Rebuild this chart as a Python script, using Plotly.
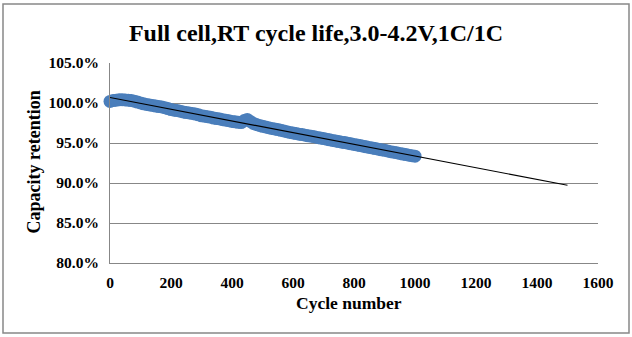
import numpy as np
import plotly.graph_objects as go

# Cycle-life test data: capacity retention (%) every 10 cycles
cycles = list(range(0, 1001, 10))
retention = [
    100.20, 100.30, 100.35, 100.40, 100.42, 100.38, 100.35, 100.30, 100.22, 100.12,
    100.00, 99.90, 99.82, 99.76, 99.70, 99.62, 99.55, 99.50, 99.42, 99.30,
    99.18, 99.10, 99.05, 98.98, 98.88, 98.80, 98.75, 98.70, 98.62, 98.52,
    98.40, 98.35, 98.28, 98.22, 98.12, 98.05, 98.00, 97.92, 97.85, 97.78,
    97.70, 97.65, 97.58, 97.55, 97.80, 97.95, 97.70, 97.45, 97.30, 97.20,
    97.08, 97.00, 96.92, 96.82, 96.75, 96.68, 96.58, 96.50, 96.42, 96.32,
    96.25, 96.18, 96.10, 96.05, 95.98, 95.90, 95.85, 95.78, 95.70, 95.62,
    95.55, 95.48, 95.40, 95.32, 95.25, 95.18, 95.10, 95.05, 94.98, 94.90,
    94.82, 94.75, 94.68, 94.60, 94.52, 94.45, 94.38, 94.30, 94.22, 94.15,
    94.08, 94.00, 93.92, 93.85, 93.78, 93.70, 93.62, 93.55, 93.48, 93.42,
    93.35,
]

# Linear trendline, forecast forward to 1500 cycles
trend_end = 1500
slope, intercept = np.polyfit(cycles, retention, 1)
trend_x = [0, trend_end]
trend_y = [intercept + slope * x for x in trend_x]

x_ticks = list(range(0, 1601, 200))
y_ticks = [80, 85, 90, 95, 100, 105]

FONT = "Liberation Serif"
GRID = "#878787"

fig = go.Figure()
fig.add_trace(go.Scatter(
    x=cycles, y=retention, mode="markers",
    marker=dict(size=13, color="#4A7EBB", line=dict(width=0)),
    cliponaxis=False, showlegend=False,
))
fig.add_trace(go.Scatter(
    x=trend_x, y=trend_y, mode="lines",
    line=dict(color="black", width=1.1),
    showlegend=False,
))

fig.update_layout(
    width=632, height=337,
    margin=dict(l=110, r=34, t=63, b=74),
    paper_bgcolor="white", plot_bgcolor="white",
    font=dict(family=FONT, color="black"),
    title=dict(
        text="<b>Full cell,RT cycle life,3.0-4.2V,1C/1C</b>",
        x=0.5, xref="container", xanchor="center",
        y=1 - 33 / 337, yref="container", yanchor="middle",
        font=dict(family=FONT, size=24, color="black"),
    ),
    xaxis=dict(
        range=[0, 1600], tickvals=x_ticks, ticktext=[f"<b>{v}</b>" for v in x_ticks],
        showgrid=False, zeroline=False,
        showline=True, linecolor=GRID, linewidth=1,
        ticks="", ticklabelstandoff=5,
        tickfont=dict(family=FONT, size=15.5, color="black"),
    ),
    yaxis=dict(
        range=[80, 105], tickvals=y_ticks,
        ticktext=[f"<b>{v:.1f}%</b>" for v in y_ticks],
        showgrid=True, gridcolor=GRID, gridwidth=1, zeroline=False,
        showline=True, linecolor=GRID, linewidth=1,
        ticks="", ticklabelstandoff=7,
        tickfont=dict(family=FONT, size=15.5, color="black"),
    ),
    annotations=[
        dict(text="<b>Capacity retention</b>", textangle=-90,
             xref="paper", yref="paper", x=(33 - 110) / 488, y=(263 - 162.5) / 200,
             xanchor="center", yanchor="middle", showarrow=False,
             font=dict(family=FONT, size=18, color="black")),
        dict(text="<b>Cycle number</b>",
             xref="paper", yref="paper", x=(349 - 110) / 488, y=(263 - 303) / 200,
             xanchor="center", yanchor="middle", showarrow=False,
             font=dict(family=FONT, size=17.5, color="black")),
    ],
    shapes=[
        dict(type="rect", xref="paper", yref="paper",
             x0=(3 - 110) / 488, x1=(629 - 110) / 488,
             y0=(263 - 333) / 200, y1=(263 - 4) / 200,
             line=dict(color="#888888", width=1.5), layer="below"),
    ],
)

fig.write_html("out.html")
